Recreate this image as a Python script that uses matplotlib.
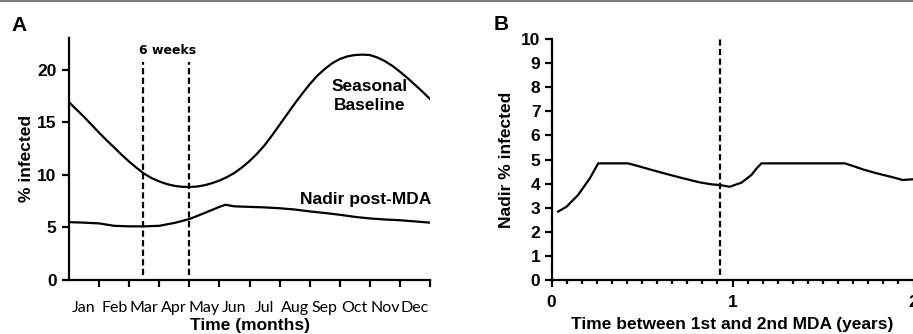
import numpy as np
import matplotlib
matplotlib.use("Agg")
import matplotlib.pyplot as plt
from matplotlib.lines import Line2D

plt.rcParams['font.family'] = ['Liberation Sans', 'DejaVu Sans']
plt.rcParams['font.weight'] = 'bold'
plt.rcParams['axes.labelweight'] = 'bold'

# panel A data
months = ['Jan', 'Feb', 'Mar', 'Apr', 'May', 'Jun', 'Jul', 'Aug', 'Sep', 'Oct', 'Nov', 'Dec']
season_t = [0, 0.25, 0.5, 0.75, 1, 1.25, 1.5, 1.75, 2, 2.25, 2.5, 2.75, 3, 3.25, 3.5,
            3.75, 4, 4.25, 4.5, 4.75, 5, 5.25, 5.5, 5.75, 6, 6.25, 6.5, 6.75, 7,
            7.25, 7.5, 7.75, 8, 8.25, 8.5, 8.75, 9, 9.25, 9.5, 9.75, 10, 10.25,
            10.5, 10.75, 11, 11.25, 11.5, 11.75, 12]
season_y = [16.9, 16.2, 15.5, 14.75, 14.0, 13.28, 12.6, 11.9, 11.25, 10.65, 10.1, 9.68,
            9.37, 9.12, 8.95, 8.86, 8.84, 8.88, 9.0, 9.2, 9.45, 9.78, 10.18, 10.7,
            11.3, 12.0, 12.8, 13.75, 14.75, 15.75, 16.75, 17.7, 18.6, 19.4, 20.05,
            20.6, 21.0, 21.25, 21.38, 21.42, 21.38, 21.15, 20.8, 20.35, 19.8, 19.2,
            18.55, 17.9, 17.2]
nadir_t = [0, 0.5, 1, 1.5, 2, 2.5, 3, 3.5, 4, 4.5, 5, 5.2, 5.5, 6, 6.5, 7, 7.5,
           8, 8.5, 9, 9.5, 10, 10.5, 11, 11.5, 12]
nadir_y = [5.5, 5.45, 5.38, 5.15, 5.1, 5.1, 5.15, 5.42, 5.79, 6.36, 6.95, 7.15, 7.0,
           6.95, 6.9, 6.82, 6.7, 6.52, 6.37, 6.2, 6.0, 5.85, 5.75, 5.68, 5.57, 5.45]
mda_a = [2.45, 4.0]

# panel B data
gap_t = [0.037, 0.083, 0.147, 0.212, 0.258, 0.423, 0.478, 0.543, 0.635, 0.727, 0.819,
         0.884, 0.93, 0.985, 1.05, 1.105, 1.133, 1.16, 1.62, 1.666, 1.72, 1.795,
         1.887, 1.94, 2.0]
gap_y = [2.84, 3.04, 3.53, 4.22, 4.84, 4.84, 4.73, 4.59, 4.40, 4.22, 4.05,
         3.97, 3.94, 3.87, 4.04, 4.36, 4.63, 4.84, 4.84, 4.73, 4.59, 4.43,
         4.26, 4.15, 4.18]
mda_b = 0.93

W, H = 913, 334
fig = plt.figure(figsize=(W / 100, H / 100), dpi=100)

def px_axes(l, b, r, t):
    return fig.add_axes([l / W, (H - b) / H, (r - l) / W, (b - t) / H])

dash = (0, (2.8, 1.5))

###############################################################################
# panel A
###############################################################################
ax = px_axes(69, 280, 430, 38)
ax.plot(season_t, season_y, color='black', lw=1.6)
ax.plot(nadir_t, nadir_y, color='black', lw=1.6)
for m in mda_a:
    ax.plot([m, m], [0.5, 20.7], color='black', lw=1.6, ls=dash)
ax.text(3.28, 21.8, '6 weeks', ha='center', va='center', fontsize=9,
        family='DejaVu Sans', fontweight='bold')
ax.text(9.98, 18.4, 'Seasonal', ha='center', va='center', fontsize=12.5)
ax.text(9.98, 16.6, 'Baseline', ha='center', va='center', fontsize=12.5)
ax.text(12.05, 7.65, 'Nadir post-MDA', ha='right', va='center', fontsize=12.5)

ax.set_xlim(0, 12)
ax.set_ylim(0, 23)
ax.set_yticks([0, 5, 10, 15, 20])
ax.set_xticks(range(1, 13))
ax.set_xticklabels([])
ax.set_xticks(np.arange(12) + 0.5, minor=True)
ax.set_xticklabels(months, minor=True, family='Lato', fontweight='normal', fontsize=11.5)
ax.tick_params(axis='x', which='minor', length=0, pad=15)
ax.tick_params(axis='x', which='major', length=5, width=1.6)
ax.tick_params(axis='y', length=5, width=1.6, labelsize=12.5, pad=4)
ax.set_xlabel('Time (months)', fontsize=12.5, labelpad=2)
ax.set_ylabel('% infected', fontsize=12.5, labelpad=2)
for s in ['top', 'right']:
    ax.spines[s].set_visible(False)
for s in ['left', 'bottom']:
    ax.spines[s].set_linewidth(1.6)

###############################################################################
# panel B
###############################################################################
bx = px_axes(551.5, 280, 913.5, 39)
bx.plot(gap_t, gap_y, color='black', lw=1.6)
bx.plot([mda_b, mda_b], [0.2, 10], color='black', lw=1.6, ls=dash)
bx.set_xlim(0, 2)
bx.set_ylim(0, 10)
bx.set_yticks(range(0, 11))
bx.set_xticks([0, 1, 2])
bx.set_xticks(np.arange(0, 2.001, 1 / 12), minor=True)
bx.tick_params(axis='x', which='major', length=5, width=1.6, labelsize=12.5, pad=6)
bx.tick_params(axis='x', which='minor', length=3.2, width=1.6)
bx.tick_params(axis='y', length=5, width=1.6, labelsize=12.5, pad=3)
bx.set_xlabel('Time between 1st and 2nd MDA (years)', fontsize=12.5, labelpad=5)
bx.set_ylabel('Nadir % infected', fontsize=12.5, labelpad=5)
for s in ['top', 'right']:
    bx.spines[s].set_visible(False)
for s in ['left', 'bottom']:
    bx.spines[s].set_linewidth(1.6)

fig.text(19.5 / W, 1 - 25.5 / H, 'A', fontsize=15, ha='center', va='center')
fig.text(501 / W, 1 - 25 / H, 'B', fontsize=15, ha='center', va='center')
fig.add_artist(Line2D([0, 1], [1 - 1 / H, 1 - 1 / H], color='#7f7f7f', lw=1.5))

fig.savefig('out.png', dpi=100)
